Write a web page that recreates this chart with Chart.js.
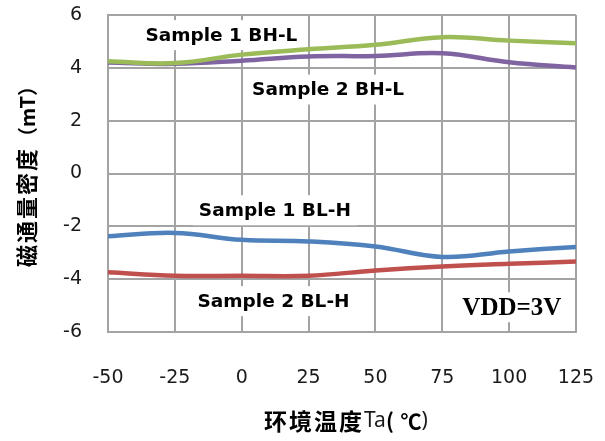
<!DOCTYPE html>
<html>
<head>
<meta charset="utf-8">
<script src="https://cdn.jsdelivr.net/npm/chart.js@4.4.1/dist/chart.umd.min.js"></script>
<style>
  html, body { margin: 0; padding: 0; background: #ffffff; }
  #wrap { width: 605px; height: 441px; }
</style>
</head>
<body>
<div id="wrap"><canvas id="c" width="605" height="441"></canvas></div>
<script>
// Ambient temperature (°C) and magnetic flux density (mT) for the two samples
const temperatures = [-50, -25, 0, 25, 50, 75, 100, 125];
const sample1BHL = [4.25, 4.18, 4.5, 4.7, 4.87, 5.16, 5.03, 4.93];
const sample2BHL = [4.2, 4.15, 4.27, 4.43, 4.45, 4.55, 4.21, 4.01];
const sample1BLH = [-2.38, -2.25, -2.51, -2.57, -2.76, -3.16, -2.95, -2.78];
const sample2BLH = [-3.74, -3.87, -3.87, -3.87, -3.67, -3.52, -3.42, -3.33];

// Axis ranges and tick steps
const xRange = [-50, 125];
const xStep = 25;
const yRange = [-6, 6];
const yStep = 2;

const seriesNames = ['Sample 1 BH-L', 'Sample 2 BH-L', 'Sample 1 BL-H', 'Sample 2 BL-H'];
const seriesValues = [sample1BHL, sample2BHL, sample1BLH, sample2BLH];
const seriesColors = ['#9BBB59', '#8064A2', '#4F81BD', '#C0504D'];

const xTitleRuns = [
  ['环境温度', 'bold 23px "Noto Sans CJK SC"', '#000', 2],
  ['Ta', '21px "Noto Sans", sans-serif', '#1a1a1a', 0],
  ['( ', 'bold 21px "Noto Sans CJK SC"', '#000', 1],
  ['℃', 'bold 21px "Noto Sans CJK SC"', '#000', 0],
  [')', '21px "Noto Sans", sans-serif', '#1a1a1a', 0]
];
const yTitleRuns = [
  ['磁通量密度', 'bold 22px "Noto Sans CJK SC"', '#000', 2],
  ['（mT）', 'bold 20px "Noto Sans CJK SC"', '#000', 0]
];

// Text notes placed in data coordinates, each on a white box
const notes = [
  { text: seriesNames[0], x: -7.6, y: 5.2, font: 'bold 18.5px "DejaVu Sans"' },
  { text: seriesNames[1], x: 32.3, y: 3.14, font: 'bold 18.5px "DejaVu Sans"' },
  { text: seriesNames[2], x: 12.4, y: -1.43, font: 'bold 18.5px "DejaVu Sans"' },
  { text: seriesNames[3], x: 11.9, y: -4.87, font: 'bold 18.5px "DejaVu Sans"' },
  { text: 'VDD=3V', x: 101, y: -5.1, font: 'bold 25px "Liberation Serif"' }
];

function drawRuns(ctx, runs, cx, cy) {
  let total = 0;
  const widths = runs.map(r => {
    ctx.font = r[1];
    ctx.letterSpacing = r[3] + 'px';
    const w = ctx.measureText(r[0]).width;
    total += w;
    return w;
  });
  let x = cx - total / 2;
  ctx.textAlign = 'left';
  ctx.textBaseline = 'middle';
  runs.forEach((r, i) => {
    ctx.font = r[1];
    ctx.letterSpacing = r[3] + 'px';
    ctx.fillStyle = r[2];
    ctx.fillText(r[0], x, cy);
    x += widths[i];
  });
  ctx.letterSpacing = '0px';
}

const notesPlugin = {
  id: 'notes',
  beforeDatasetsDraw(chart) {
    const { ctx, scales } = chart;
    ctx.save();
    notes.forEach(n => {
      const px = scales.x.getPixelForValue(n.x);
      const py = scales.y.getPixelForValue(n.y);
      ctx.font = n.font;
      const w = ctx.measureText(n.text).width;
      ctx.fillStyle = '#ffffff';
      ctx.fillRect(px - w / 2 - 6, py - 16, w + 12, 30);
      ctx.fillStyle = '#000000';
      ctx.textAlign = 'center';
      ctx.textBaseline = 'middle';
      ctx.fillText(n.text, px, py);
    });
    ctx.restore();
  },
  afterDraw(chart) {
    const { ctx, chartArea } = chart;
    ctx.save();
    drawRuns(ctx, xTitleRuns, (chartArea.left + chartArea.right) / 2 + 4, 421);
    ctx.translate(27, (chartArea.top + chartArea.bottom) / 2 - 2);
    ctx.rotate(-Math.PI / 2);
    drawRuns(ctx, yTitleRuns, 0, 0);
    ctx.restore();
  }
};

const gridColor = '#a3a3a3';

function noPadding(s) {
  s.paddingLeft = 0; s.paddingRight = 0; s.paddingTop = 0; s.paddingBottom = 0;
}

new Chart(document.getElementById('c'), {
  type: 'line',
  data: {
    datasets: seriesValues.map((vals, i) => ({
      label: seriesNames[i],
      data: temperatures.map((t, j) => ({ x: t, y: vals[j] })),
      borderColor: seriesColors[i],
      backgroundColor: seriesColors[i],
      borderWidth: 4.5,
      pointRadius: 0,
      tension: 0.4,
      fill: false
    }))
  },
  options: {
    responsive: false,
    animation: false,
    layout: { padding: { top: 15, right: 29, left: 0, bottom: 0 } },
    plugins: { legend: { display: false }, tooltip: { enabled: false } },
    scales: {
      x: {
        type: 'linear',
        min: xRange[0],
        max: xRange[1],
        afterFit: s => { s.height = 109; noPadding(s); },
        grid: { display: true, color: gridColor, lineWidth: 2, drawTicks: false, drawOnChartArea: true },
        border: { display: true, color: gridColor, width: 2 },
        ticks: {
          stepSize: xStep,
          autoSkip: false, maxRotation: 0, padding: 35,
          color: '#1a1a1a',
          font: { family: '"DejaVu Sans"', size: 19 }
        }
      },
      y: {
        type: 'linear',
        min: yRange[0],
        max: yRange[1],
        afterFit: s => { s.width = 108; noPadding(s); },
        grid: { display: true, color: gridColor, lineWidth: 2, drawTicks: false, drawOnChartArea: true },
        border: { display: true, color: gridColor, width: 2 },
        ticks: {
          stepSize: yStep,
          padding: 26,
          color: '#1a1a1a',
          font: { family: '"DejaVu Sans"', size: 19 }
        }
      }
    }
  },
  plugins: [notesPlugin]
});
</script>
</body>
</html>
